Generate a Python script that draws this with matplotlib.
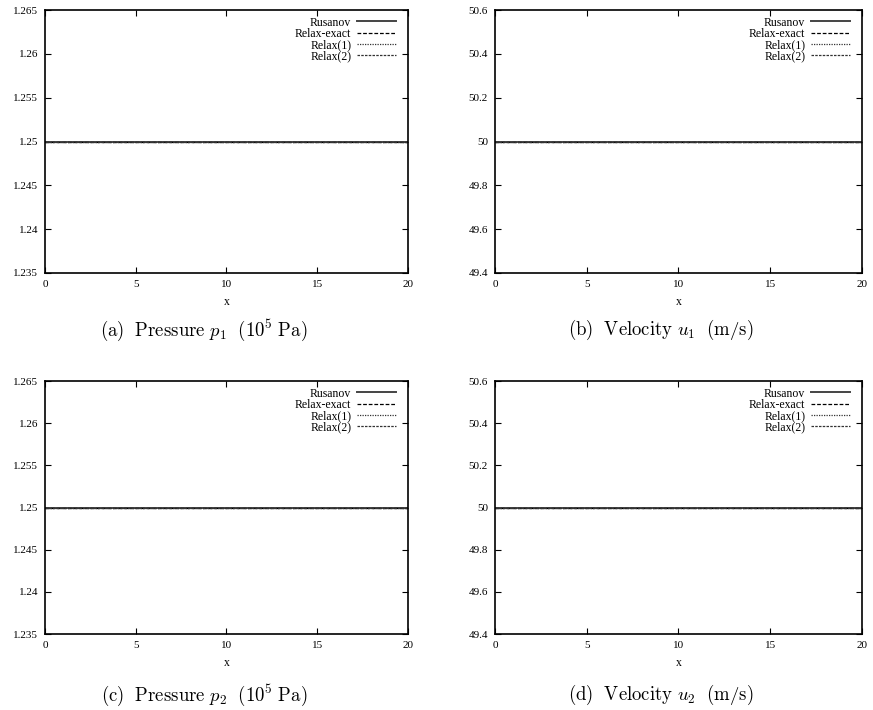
import matplotlib
matplotlib.use("Agg")
import matplotlib.pyplot as plt
from matplotlib.ticker import MultipleLocator, FuncFormatter

plt.rcParams["font.family"] = ["Liberation Serif", "DejaVu Serif"]
plt.rcParams["mathtext.fontset"] = "cm"

# ── data ──────────────────────────────────────────
x = [0.0, 20.0]
p1 = [1.25, 1.25]
u1 = [50.0, 50.0]
p2 = [1.25, 1.25]
u2 = [50.0, 50.0]

SERIES = ["Rusanov", "Relax-exact", "Relax(1)", "Relax(2)"]
CAPTIONS = [
    r"$\mathrm{(a)\ \ Pressure}\ p_1\ \ \mathrm{(10^5\ Pa)}$",
    r"$\mathrm{(b)\ \ Velocity}\ u_1\ \ \mathrm{(m/s)}$",
    r"$\mathrm{(c)\ \ Pressure}\ p_2\ \ \mathrm{(10^5\ Pa)}$",
    r"$\mathrm{(d)\ \ Velocity}\ u_2\ \ \mathrm{(m/s)}$",
]
P_LIM = (1.235, 1.265)
U_LIM = (49.4, 50.6)

STYLES = [
    dict(color="#444444", lw=1.4, ls="-"),
    dict(color="black", lw=0.9, dashes=(3, 1.5)),
    dict(color="#333333", lw=0.9, dashes=(1, 1)),
    dict(color="#333333", lw=0.9, dashes=(2, 1)),
]

fig = plt.figure(figsize=(8.73, 7.10), dpi=100)

# axes rectangles (fig fraction)
rects = [
    (0.0515, 0.6155, 0.4158, 0.3704),
    (0.5670, 0.6155, 0.4204, 0.3704),
    (0.0515, 0.1070, 0.4158, 0.3563),
    (0.5670, 0.1070, 0.4204, 0.3563),
]
cap_pos = [(0.2337, 0.535), (0.757, 0.535), (0.2337, 0.021), (0.757, 0.021)]
data = [(p1, P_LIM, 0.005), (u1, U_LIM, 0.2), (p2, P_LIM, 0.005), (u2, U_LIM, 0.2)]

fmt = FuncFormatter(lambda v, pos: f"{v:g}")

for k, (rect, (y, lim, step)) in enumerate(zip(rects, data)):
    ax = fig.add_axes(rect)
    for name, st in zip(SERIES, STYLES):
        ax.plot(x, y, label=name, **st)
    ax.set_xlim(0, 20)
    ax.set_ylim(*lim)
    ax.xaxis.set_major_locator(MultipleLocator(5))
    ax.yaxis.set_major_locator(MultipleLocator(step))
    ax.yaxis.set_major_formatter(fmt)
    ax.tick_params(direction="in", top=True, right=True, length=4, width=0.8,
                   labelsize=8, pad=5)
    for s in ax.spines.values():
        s.set_linewidth(1.2)
    ax.set_xlabel("x", fontsize=8.5, labelpad=5)
    ax.legend(loc="upper right", frameon=False, markerfirst=False,
              fontsize=8.5, handlelength=3.3, labelspacing=-0.06,
              handletextpad=0.5, borderaxespad=0.15,
              bbox_to_anchor=(0.985, 1.0))
    fig.text(cap_pos[k][0], cap_pos[k][1], CAPTIONS[k], ha="center",
             va="center", fontsize=13.5)

fig.savefig("out.png", dpi=100)
